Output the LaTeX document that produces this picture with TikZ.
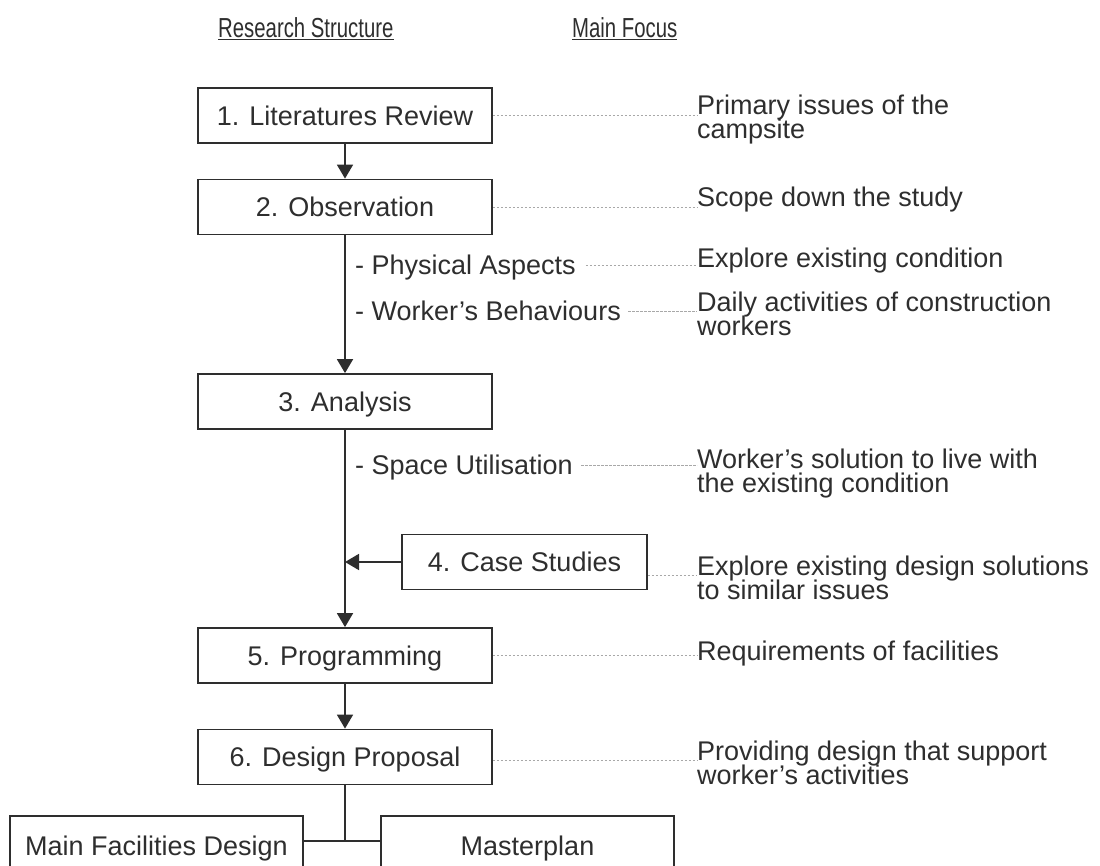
\documentclass[tikz,border=0pt]{standalone}
\usepackage{fontspec}
\setmainfont{Liberation Sans}
\newfontfamily\narrowfont{Liberation Sans}[FakeStretch=0.74]
\usetikzlibrary{arrows.meta}
\definecolor{ink}{HTML}{2E2E2E}
\definecolor{dashgray}{HTML}{A8A8A8}
\begin{document}
\begin{tikzpicture}[x=1pt,y=-1pt,
  stepbox/.style={draw=ink, line width=1.8pt, minimum width=294pt, minimum height=55pt,
    inner sep=0pt, text height=19.3pt, text depth=0pt, text=ink,
    font=\fontsize{27}{27}\selectfont},
  flow/.style={draw=ink, line width=1.8pt, -{Triangle[width=16pt,length=14pt]}},
  link/.style={draw=ink, line width=1.8pt},
  dashline/.style={draw=dashgray, line width=0.9pt, dash pattern=on 2.5pt off 1.5pt},
  txt/.style={inner sep=0pt, anchor=base west, text=ink, font=\fontsize{27}{27}\selectfont},
  lbl/.style={inner sep=0pt, anchor=west, text=ink, text height=19.3pt, text depth=0pt,
    font=\fontsize{27}{27}\selectfont},
  hdr/.style={inner sep=0pt, anchor=base west, text=ink, font=\narrowfont\fontsize{27.5}{27.5}\selectfont}
]
\useasboundingbox (0,0) rectangle (1100,866);
\fill[white] (0,0) rectangle (1100,866);

% headers
\node[hdr] (h1) at (218,38) {\underline{Research Structure}};
\node[hdr] (h2) at (572,38) {\underline{Main Focus}};

% research structure boxes
\node[stepbox] (b1) at (345,115.5) {1. Literatures Review};
\node[stepbox] (b2) at (345,207) {2. Observation};
\node[stepbox] (b3) at (345,401.5) {3. Analysis};
\node[stepbox, minimum width=245pt] (b4) at (524.5,562) {4. Case Studies};
\node[stepbox] (b5) at (345,655.5) {5. Programming};
\node[stepbox] (b6) at (345,757) {6. Design Proposal};
\node[stepbox, minimum width=293pt, minimum height=60pt] (b7) at (156.5,846) {Main Facilities Design};
\node[stepbox, minimum width=293pt, minimum height=60pt] (b8) at (527.5,846) {Masterplan};

% sub labels
\node[lbl] (p1) at (355,265) {- Physical Aspects};
\node[lbl] (p2) at (355,311) {- Worker’s Behaviours};
\node[lbl] (p3) at (355,465) {- Space Utilisation};

% main focus texts
\node[txt] (f1) at (697,115) {Primary issues of the};
\node[txt] (f1b) at (697,139) {campsite};
\node[txt] (f2) at (697,207) {Scope down the study};
\node[txt] (f3) at (697,268) {Explore existing condition};
\node[txt] (f4) at (697,312) {Daily activities of construction};
\node[txt] (f4b) at (697,336) {workers};
\node[txt] (f5) at (697,468) {Worker’s solution to live with};
\node[txt] (f5b) at (697,492) {the existing condition};
\node[txt] (f6) at (697,575) {Explore existing design solutions};
\node[txt] (f6b) at (697,599) {to similar issues};
\node[txt] (f7) at (697,660) {Requirements of facilities};
\node[txt] (f8) at (697,760) {Providing design that support};
\node[txt] (f8b) at (697,784) {worker’s activities};

% flow connectors
\draw[flow] (b1.south) -- (b2.north);
\draw[flow] (b2.south) -- (b3.north);
\draw[flow] (b3.south) -- (b5.north);
\draw[flow] (b4.west) -- (b4.west -| b3.south);
\draw[flow] (b5.south) -- (b6.north);
\coordinate (j) at (345,841);
\draw[link] (b6.south) -- (j);
\draw[link] (b7.east |- j) -- (b8.west |- j);

% dashed leaders
\draw[dashline] (b1.east |- f1.base) -- (f1.base west);
\draw[dashline] (b2.east |- f2.base) -- (f2.base west);
\draw[dashline, shorten <=10pt] (p1.east) -- (p1.east -| f3.west);
\draw[dashline, shorten <=7pt] (p2.east) -- (p2.east -| f4.west);
\draw[dashline, shorten <=8pt] (p3.east) -- (p3.east -| f5.west);
\draw[dashline] (b4.east |- f6.base) -- (f6.base west);
\draw[dashline] (b5.east) -- (b5.east -| f7.west);
\draw[dashline] (b6.east |- f8.base) -- (f8.base west);
\end{tikzpicture}
\end{document}
